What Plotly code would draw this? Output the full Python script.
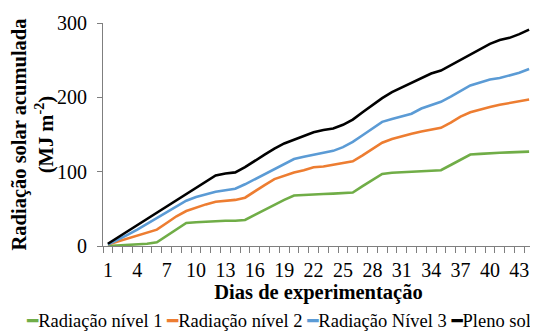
import plotly.graph_objects as go

days = list(range(1, 45))

nivel1 = [0, 0.5, 1, 2, 3, 5, 14, 22, 31, 32, 33, 33.5, 34, 34, 35, 42, 49, 56, 62, 68,
          69, 70, 70, 70.5, 71, 72, 80.5, 89, 97, 98.5, 99, 100, 101, 101.5, 102, 109, 116, 123,
          124, 125, 125.5, 126, 126, 127]
nivel2 = [2, 6, 10, 14, 18, 22, 31, 40, 47, 52, 56, 59.5, 61, 62, 65, 74, 82, 90, 95, 99,
          102, 106, 107, 109, 111, 114, 122, 131, 139, 144, 148, 151, 154, 157, 159, 166, 174, 180,
          184, 187, 190, 192, 194, 197]
nivel3 = [2, 8, 15, 22, 30, 37, 45, 53, 61, 66, 70, 73, 75, 77, 83, 90, 97, 104, 111, 117,
          120, 123, 125, 128, 133, 140, 149, 158, 167, 171, 175, 178, 185, 190, 194, 201, 209, 216,
          220, 224, 226, 229, 233, 238]
pleno = [3, 11.4, 19.7, 28, 36.5, 44.8, 53, 61.5, 70, 78, 86.6, 95, 97.5, 99, 106, 115, 123, 131, 138, 143,
         148, 153, 156, 158, 163, 170, 180, 190, 199, 207, 213, 219, 226, 232, 236, 243, 251, 258,
         265, 272, 277, 280, 285, 291]

series_names = ["Radiação nível 1", "Radiação nível 2", "Radiação Nível 3", "Pleno sol"]
series_values = [nivel1, nivel2, nivel3, pleno]
colors = ["#70AD47", "#ED7D31", "#5B9BD5", "#000000"]

x_tickvals = list(range(1, 45, 3))
y_tickvals = [0, 100, 200, 300]

FONT = "Liberation Serif"

fig = go.Figure()
for name, vals, col in zip(series_names, series_values, colors):
    fig.add_trace(go.Scatter(x=days, y=vals, mode="lines", name=name,
                             line=dict(color=col, width=2.6)))

# page body has an 8px default margin, so the figure is sized/offset to compensate
fig.update_layout(
    width=530, height=323,
    margin=dict(l=95, r=4, t=15, b=85, autoexpand=False),
    plot_bgcolor="white", paper_bgcolor="white",
    showlegend=False,
    font=dict(family=FONT, color="#000000", size=20),
)
fig.update_xaxes(
    range=[0.5, 44.5], tickvals=x_tickvals, ticktext=[str(v) for v in x_tickvals],
    ticks="", showgrid=False, zeroline=False, automargin=False,
    showline=True, linecolor="#7f7f7f", linewidth=1,
    minor=dict(tick0=0.5, dtick=1, ticks="outside", ticklen=6, tickcolor="#7f7f7f", showgrid=False),
    tickfont=dict(size=20, family=FONT),
    ticklabelstandoff=6,
    title=dict(text="<b>Dias de experimentação</b>", font=dict(size=20.5, family=FONT), standoff=3),
)
fig.update_yaxes(
    range=[0, 300], tickvals=y_tickvals, ticks="outside", ticklen=5, tickcolor="#7f7f7f",
    showgrid=False, zeroline=False, automargin=False,
    showline=True, linecolor="#7f7f7f", linewidth=1,
    tickfont=dict(size=20, family=FONT),
    ticklabelstandoff=6,
    title=dict(text="<b>Radiação solar acumulada<br>(MJ m<sup>-2</sup>)</b>",
               font=dict(size=20.5, family=FONT), standoff=4),
)

dash = '<span style="color:{c};font-family:DejaVu Sans">━</span>'
legend_text = " ".join(dash.format(c=c) + n for n, c in zip(series_names, colors))
fig.add_annotation(
    xref="paper", yref="paper", x=0.408, y=-0.334, xanchor="center", yanchor="middle",
    text=legend_text, showarrow=False, font=dict(size=18.5, family=FONT, color="#000000"),
)

fig.write_html("out.html")
